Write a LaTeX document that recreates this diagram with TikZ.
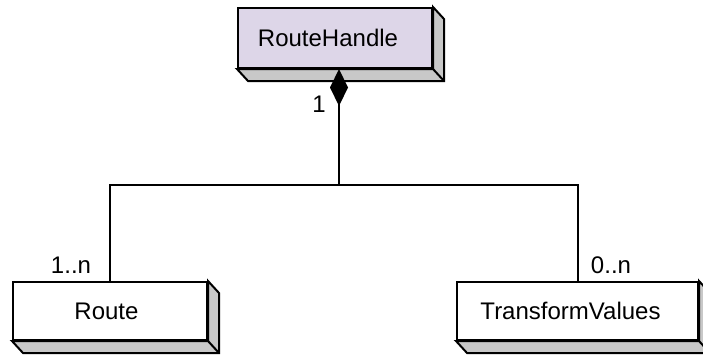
\documentclass[tikz,border=0pt]{standalone}
\usepackage{fontspec}
\setmainfont{Liberation Sans}
\usetikzlibrary{arrows.meta,calc}
\definecolor{lav}{RGB}{221,214,232}
\definecolor{side}{RGB}{200,200,200}
\tikzset{
  umlbox/.style={draw=black, line width=2pt, minimum height=58pt, inner sep=0pt, font=\fontsize{24}{28}\selectfont},
  depth/.style={fill=side, draw=black, line width=2pt, line join=miter},
  conn/.style={draw=black, line width=2pt},
  mult/.style={font=\fontsize{24}{28}\selectfont, inner sep=0pt},
}
\newcommand{\boxdepth}[1]{%
  \path[depth] (#1.north east) -- ++(11,12) -- ($(#1.south east)+(11,12)$) -- ($(#1.south west)+(11,12)$) -- (#1.south west) -- (#1.south east) -- cycle;
  \draw[line width=2pt] (#1.south east) -- ++(11,12);
}
\begin{document}
\begin{tikzpicture}[x=1pt,y=-1pt]
\useasboundingbox (0,0) rectangle (703,356);
\node[umlbox, fill=lav, minimum width=194pt, minimum height=60pt] (rh) at (335,38) {RouteHandle\kern14pt};
\boxdepth{rh}
\node[umlbox, fill=white, minimum width=194pt] (route) at (110,311) {Route\kern7pt};
\boxdepth{route}
\node[umlbox, fill=white, minimum width=241pt] (tv) at (577.5,311) {TransformValues\kern14pt};
\boxdepth{tv}
\coordinate (top) at ([xshift=4pt]rh.south);
\coordinate (j) at (339,185);
\draw[conn, {Diamond[length=37pt,width=18pt]}-] (top) -- (j);
\draw[conn] (j) -| (route.north);
\draw[conn] (j) -| (tv.north);
\node[mult] (m1) at (319,104) {1};
\node[mult] (m2) at (71,265) {1..n};
\node[mult] (m3) at (611,265) {0..n};
\end{tikzpicture}
\end{document}
